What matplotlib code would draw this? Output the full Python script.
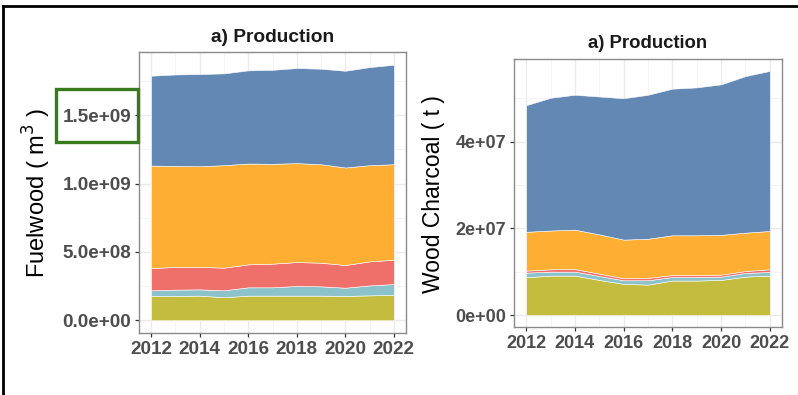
import matplotlib
matplotlib.use("Agg")
from matplotlib import pyplot as plt
from matplotlib.lines import Line2D
from matplotlib.patches import Rectangle
import numpy as np

plt.rcParams['font.family'] = ['Liberation Sans', 'DejaVu Sans']

# years on the x axis
years = list(range(2012, 2023))

# layer names (bottom to top) and colours
layers = ["Americas", "Oceania", "Europe", "Asia", "Africa"]
colors = ["#C3BC3F", "#8CC2CA", "#EF6F6A", "#FFAE34", "#6388B4"]

# fuelwood production (m3), one list per layer
fw_americas = [1.78e8, 1.78e8, 1.80e8, 1.68e8, 1.80e8, 1.80e8, 1.80e8, 1.80e8, 1.78e8, 1.82e8, 1.85e8]
fw_oceania = [0.41e8, 0.46e8, 0.46e8, 0.51e8, 0.61e8, 0.61e8, 0.71e8, 0.68e8, 0.60e8, 0.73e8, 0.80e8]
fw_europe = [1.63e8, 1.66e8, 1.64e8, 1.66e8, 1.68e8, 1.73e8, 1.75e8, 1.73e8, 1.66e8, 1.76e8, 1.78e8]
fw_asia = [7.50e8, 7.40e8, 7.37e8, 7.50e8, 7.38e8, 7.31e8, 7.24e8, 7.21e8, 7.14e8, 7.04e8, 6.99e8]
fw_africa = [6.58e8, 6.69e8, 6.75e8, 6.72e8, 6.82e8, 6.88e8, 6.96e8, 6.99e8, 7.08e8, 7.18e8, 7.28e8]

# wood charcoal production (t)
wc_americas = [8.72e6, 9.10e6, 9.10e6, 8.11e6, 7.19e6, 7.03e6, 7.96e6, 7.96e6, 8.11e6, 8.87e6, 9.10e6]
wc_oceania = [1.07e6, 0.92e6, 0.92e6, 0.92e6, 0.84e6, 1.00e6, 0.84e6, 0.84e6, 0.76e6, 0.85e6, 0.84e6]
wc_europe = [0.46e6, 0.54e6, 0.58e6, 0.53e6, 0.46e6, 0.54e6, 0.45e6, 0.45e6, 0.46e6, 0.45e6, 0.62e6]
wc_asia = [8.95e6, 8.94e6, 9.10e6, 9.04e6, 8.91e6, 9.03e6, 9.15e6, 9.15e6, 9.17e6, 8.83e6, 8.84e6]
wc_africa = [29.2e6, 30.6e6, 31.1e6, 31.8e6, 32.6e6, 33.2e6, 33.8e6, 34.1e6, 34.7e6, 36.1e6, 36.9e6]

W, H = 798, 395
fig = plt.figure(figsize=(W / 100, H / 100), dpi=100)


def px_axes(x0, y0, x1, y1):
    # axes from pixel box (top-left origin)
    return fig.add_axes([x0 / W, 1 - y1 / H, (x1 - x0) / W, (y1 - y0) / H])


def style(ax, fs, major_y, minor_y, ylabels):
    ax.set_facecolor("white")
    ax.set_xticks(range(2012, 2023, 2))
    ax.set_xticks(range(2013, 2022, 2), minor=True)
    ax.set_yticks(major_y)
    ax.set_yticklabels(ylabels)
    ax.set_yticks(minor_y, minor=True)
    ax.grid(which="major", color="#EBEBEB", lw=1.0)
    ax.grid(which="minor", color="#F2F2F2", lw=0.6)
    ax.set_axisbelow(True)
    for s in ax.spines.values():
        s.set_color("#8A8A8A")
        s.set_linewidth(1.0)
    ax.tick_params(which="major", length=3, width=0.9, color="#333333",
                   labelsize=fs, labelcolor="#4D4D4D", pad=2.5)
    ax.tick_params(which="minor", length=0)
    for lab in ax.get_xticklabels() + ax.get_yticklabels():
        lab.set_fontweight("bold")
    ax.set_xlim(2011.5, 2022.5)


# Left panel: fuelwood
ax1 = px_axes(139, 52, 406, 333)
ax1.stackplot(years, fw_americas, fw_oceania, fw_europe, fw_asia, fw_africa,
              colors=colors, labels=layers, edgecolor="white", linewidth=0.4)
top1 = max(np.sum([fw_americas, fw_oceania, fw_europe, fw_asia, fw_africa], axis=0))
ax1.set_ylim(-0.05 * top1, 1.05 * top1)
style(ax1, 13.6, [0, 5e8, 1e9, 1.5e9], [2.5e8, 7.5e8, 1.25e9, 1.75e9],
      ["0.0e+00", "5.0e+08", "1.0e+09", "1.5e+09"])

# Right panel: wood charcoal
ax2 = px_axes(514, 58.7, 782, 327.3)
ax2.stackplot(years, wc_americas, wc_oceania, wc_europe, wc_asia, wc_africa,
              colors=colors, labels=layers, edgecolor="white", linewidth=0.4)
top2 = max(np.sum([wc_americas, wc_oceania, wc_europe, wc_asia, wc_africa], axis=0))
ax2.set_ylim(-0.05 * top2, 1.05 * top2)
style(ax2, 13.0, [0, 2e7, 4e7], [1e7, 3e7, 5e7],
      ["0e+00", "2e+07", "4e+07"])

# titles and y labels
fig.text(272.5 / W, 1 - 37 / H, "a) Production", ha="center", va="center",
         fontsize=13.8, fontweight="bold", color="#1A1A1A")
fig.text(648 / W, 1 - 44 / H, "a) Production", ha="center", va="center",
         fontsize=13.3, fontweight="bold", color="#1A1A1A")
fig.text(37 / W, 1 - 193 / H, "Fuelwood ( m$^3$ )", rotation=90,
         ha="center", va="center", fontsize=17, color="black")
fig.text(433 / W, 1 - 194 / H, "Wood Charcoal ( t )", rotation=90,
         ha="center", va="center", fontsize=16.5, color="black")

# black frame lines (top and left) and the green highlight box
fig.add_artist(Line2D([3 / W, 1], [1 - 6 / H, 1 - 6 / H], color="black", lw=2.0))
fig.add_artist(Line2D([3 / W, 3 / W], [0, 1 - 6 / H], color="black", lw=2.0))
fig.add_artist(Rectangle((56 / W, 1 - 142 / H), 82 / W, 53 / H, fill=False,
                         edgecolor="#3A7A1E", lw=2.4))

plt.savefig("out.png", dpi=100)
